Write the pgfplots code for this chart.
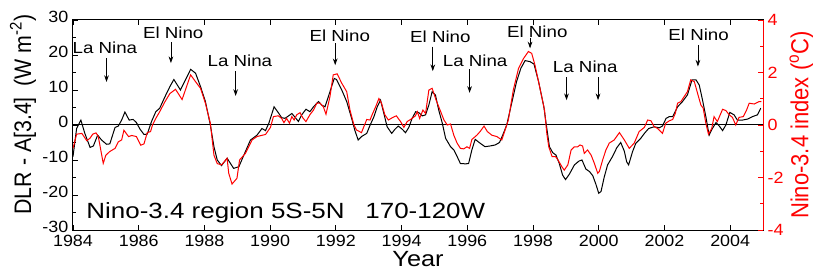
\documentclass[border=0pt]{standalone}
\usepackage{graphicx}
\usepackage{pgfplots}
\pgfplotsset{compat=1.18}
\usepackage{fontspec}
\setmainfont{Liberation Sans}
\usetikzlibrary{arrows.meta}
\newcommand{\annot}[1]{\scalebox{1.17}[1]{\fontsize{12}{14}\selectfont #1}}
\begin{document}
\begin{tikzpicture}
\begin{axis}[
  name=main, scale only axis, width=517.5pt, height=157.5pt,
  xmin=1984, xmax=2005, ymin=-30, ymax=30,
  xtick={1984,1986,...,2004}, minor x tick num=1,
  ytick={-30,-20,...,30}, minor y tick num=1,
  ytick pos=left, xtick pos=both,
  tick align=inside, major tick length=3.75pt, minor tick length=2.25pt,
  every tick/.style={black, line width=0.6pt},
  axis line style={line width=0.75pt},
  /pgf/number format/assume math mode=true,
  xticklabel={\scalebox{1.1}[1]{\pgfmathprintnumber[1000 sep={}]{\tick}}},
  yticklabel={\scalebox{1.1}[1]{\pgfmathprintnumber{\tick}}},
  tick label style={font=\fontsize{12.2}{14}\selectfont},
  x tick label style={inner ysep=0.5pt, yshift=-3.2pt},
  y tick label style={inner ysep=0.5pt, yshift=2.6pt},
  xlabel={\scalebox{1.15}[1]{Year}},
  xlabel style={font=\fontsize{16.5}{20}\selectfont, at={(axis description cs:0.5,-0.1)}, anchor=north, inner sep=0pt},
  ylabel={\scalebox{1}[1.12]{DLR - A[3.4]\hspace{0.5em}(W m\textsuperscript{-2})}},
  ylabel style={font=\fontsize{16}{19}\selectfont, at={(axis description cs:-0.0725,0.55)}, anchor=center},
  clip mode=individual,
]
\draw[black, line width=0.75pt] (axis cs:1984,0) -- (axis cs:2005,0);
\addplot[black, line width=0.75pt] coordinates {
(1984.00,-9.0)(1984.11,-1.0)(1984.24,1.4)(1984.36,-2.4)(1984.52,-6.4)(1984.62,-6.0)(1984.75,-2.9)(1984.87,-4.3)(1985.02,-5.5)(1985.12,-5.4)(1985.28,-0.7)(1985.38,-0.3)(1985.48,1.4)(1985.58,3.7)(1985.71,1.4)(1985.83,1.6)(1985.93,0.7)(1986.04,-1.2)(1986.16,-2.7)(1986.26,-2.6)(1986.39,1.0)(1986.52,3.8)(1986.64,4.8)(1986.80,8.1)(1986.95,11.0)(1987.07,13.0)(1987.27,10.0)(1987.58,15.9)(1987.73,14.8)(1987.88,11.0)(1988.03,6.7)(1988.18,0.0)(1988.29,-6.2)(1988.39,-10.0)(1988.52,-11.6)(1988.69,-9.5)(1988.89,-12.4)(1989.05,-11.9)(1989.20,-8.6)(1989.40,-4.3)(1989.60,-2.9)(1989.75,-1.0)(1989.86,-1.6)(1989.96,0.5)
(1990.12,5.2)(1990.25,3.5)(1990.35,2.1)(1990.45,1.9)(1990.56,2.6)(1990.66,3.3)(1990.76,2.2)(1990.86,1.0)(1990.96,2.9)(1991.09,4.5)(1991.21,3.8)(1991.32,5.2)(1991.47,6.7)(1991.57,5.7)(1991.67,5.2)(1991.82,9.5)(1991.95,13.3)(1992.02,13.0)(1992.18,10.0)(1992.33,6.7)(1992.48,1.9)(1992.58,-1.6)(1992.68,-4.3)(1992.78,-3.3)(1992.94,-2.4)
(1993.03,-0.3)(1993.16,2.4)(1993.26,5.2)(1993.36,7.1)(1993.46,3.3)(1993.56,-0.5)(1993.70,-2.4)(1993.80,-1.2)(1993.90,-0.3)(1994.02,-1.2)(1994.12,-2.2)(1994.22,-0.7)(1994.32,1.9)(1994.43,3.8)(1994.53,3.5)(1994.63,2.6)(1994.73,2.9)(1994.83,5.7)(1994.93,9.5)(1995.03,8.6)(1995.13,4.3)(1995.24,0.5)(1995.34,-3.8)(1995.49,-6.2)(1995.59,-7.1)(1995.69,-9.0)(1995.79,-11.0)(1995.95,-11.1)(1996.04,-11.0)(1996.14,-7.1)
(1996.24,-4.1)(1996.39,-5.2)(1996.54,-6.2)(1996.69,-6.0)(1996.85,-5.7)(1996.98,-5.0)(1997.10,-2.4)(1997.20,0.0)(1997.35,6.2)(1997.50,12.4)(1997.63,16.2)(1997.76,18.4)(1997.91,18.1)(1998.03,17.4)(1998.17,12.4)(1998.33,5.2)(1998.41,-0.3)(1998.50,-6.2)(1998.60,-7.9)(1998.70,-8.6)(1998.80,-11.0)(1998.90,-14.3)(1998.99,-15.6)(1999.11,-14.0)(1999.26,-11.4)(1999.40,-10.3)(1999.49,-10.0)(1999.61,-12.6)(1999.72,-13.3)(1999.82,-14.5)(1999.92,-17.1)(2000.00,-19.5)(2000.07,-19.0)(2000.17,-14.8)(2000.27,-11.4)(2000.42,-9.0)(2000.55,-6.5)(2000.67,-5.0)(2000.78,-7.5)(2000.85,-10.5)(2000.91,-11.4)(2001.03,-7.6)(2001.13,-5.2)(2001.28,-3.8)(2001.39,-2.4)(2001.52,-1.0)(2001.69,-0.5)(2001.84,-0.8)(2001.94,-0.3)
(2002.05,1.9)(2002.15,2.4)(2002.25,2.4)(2002.40,5.2)(2002.55,6.7)(2002.70,8.6)(2002.84,12.9)(2002.96,12.9)(2003.06,11.4)(2003.16,7.1)(2003.26,2.4)(2003.36,-2.9)(2003.46,-1.0)(2003.57,0.7)(2003.67,-0.3)(2003.77,-1.6)(2003.87,0.0)(2003.99,3.6)(2004.12,2.9)(2004.22,1.4)(2004.37,1.4)(2004.53,1.7)(2004.68,2.4)(2004.83,2.9)(2004.93,4.8)
};
% annotations
\node[anchor=base, inner sep=0pt] at (axis cs:1984.97,20.3) {\annot{La Nina}};
\draw[-{Stealth[length=5pt,width=3.5pt]}, line width=0.6pt] (axis cs:1985.02,19.1) -- (axis cs:1985.02,12.3);
\node[anchor=base, inner sep=0pt] at (axis cs:1987.05,24.6) {\annot{El Nino}};
\draw[-{Stealth[length=5pt,width=3.5pt]}, line width=0.6pt] (axis cs:1986.98,23.7) -- (axis cs:1986.98,17.7);
\node[anchor=base, inner sep=0pt] at (axis cs:1989.08,16.7) {\annot{La Nina}};
\draw[-{Stealth[length=5pt,width=3.5pt]}, line width=0.6pt] (axis cs:1988.95,15.3) -- (axis cs:1988.95,8.3);
\node[anchor=base, inner sep=0pt] at (axis cs:1992.12,23.8) {\annot{El Nino}};
\draw[-{Stealth[length=5pt,width=3.5pt]}, line width=0.6pt] (axis cs:1991.98,23.3) -- (axis cs:1991.98,17.1);
\node[anchor=base, inner sep=0pt] at (axis cs:1995.18,23.5) {\annot{El Nino}};
\draw[-{Stealth[length=5pt,width=3.5pt]}, line width=0.6pt] (axis cs:1994.95,22.4) -- (axis cs:1994.95,15.4);
\node[anchor=base, inner sep=0pt] at (axis cs:1996.24,16.7) {\annot{La Nina}};
\draw[-{Stealth[length=5pt,width=3.5pt]}, line width=0.6pt] (axis cs:1996.07,15.9) -- (axis cs:1996.07,9.2);
\node[anchor=base, inner sep=0pt] at (axis cs:1998.13,25.1) {\annot{El Nino}};
\draw[-{Stealth[length=5pt,width=3.5pt]}, line width=0.6pt] (axis cs:1997.91,24.9) -- (axis cs:1997.91,21.9);
\node[anchor=base, inner sep=0pt] at (axis cs:1999.59,14.9) {\annot{La Nina}};
\draw[-{Stealth[length=5pt,width=3.5pt]}, line width=0.6pt] (axis cs:1999.02,13.6) -- (axis cs:1999.02,7.1);
\draw[-{Stealth[length=5pt,width=3.5pt]}, line width=0.6pt] (axis cs:1999.98,13.6) -- (axis cs:1999.98,7.1);
\node[anchor=base, inner sep=0pt] at (axis cs:2003.04,24.1) {\annot{El Nino}};
\draw[-{Stealth[length=5pt,width=3.5pt]}, line width=0.6pt] (axis cs:2003.02,22.9) -- (axis cs:2003.02,16.7);
\node[anchor=base west, inner sep=0pt] at (axis cs:1984.40,-26.6) {\scalebox{1.18}[1]{\fontsize{16.5}{19}\selectfont Nino-3.4 region 5S-5N\hspace{0.8em}170-120W}};
\coordinate (ll) at (rel axis cs:0,0);
\coordinate (ur) at (rel axis cs:1,1);
\end{axis}
\begin{axis}[
  scale only axis, width=517.5pt, height=157.5pt,
  xmin=1984, xmax=2005, ymin=-4, ymax=4,
  axis x line=none, axis y line*=right,
  ytick={-4,-2,...,4}, minor y tick num=1,
  tick align=inside, major tick length=3.75pt, minor tick length=2.25pt,
  every tick/.style={red, line width=0.6pt},
  y axis line style={red, -, line width=0.75pt},
  /pgf/number format/assume math mode=true,
  yticklabel={\scalebox{1.1}[1]{\pgfmathprintnumber{\tick}}},
  yticklabel style={red, font=\fontsize{12.2}{14}\selectfont},
  ylabel={\scalebox{1}[1.12]{Nino-3.4 index (\textsuperscript{o}C)}},
  ylabel style={red, font=\fontsize{16.5}{19}\selectfont, at={(axis description cs:1.0558,0.5)}, anchor=center},
  clip mode=individual,
]
\addplot[red, line width=0.75pt] coordinates {
(1984.00,-0.89)(1984.11,-0.35)(1984.27,-0.32)(1984.42,-0.60)(1984.52,-0.50)(1984.60,-0.35)(1984.70,-0.30)(1984.77,-0.44)(1984.92,-1.46)(1985.00,-1.15)(1985.12,-1.01)(1985.28,-0.89)(1985.38,-0.64)(1985.48,-0.57)(1985.55,-0.20)(1985.69,-0.44)(1985.79,-0.40)(1985.93,-0.44)(1986.06,-0.77)(1986.16,-0.72)(1986.26,-0.29)(1986.36,-0.25)(1986.42,0.00)(1986.52,0.25)(1986.64,0.51)(1986.80,0.89)(1986.95,1.20)
(1987.12,1.36)(1987.32,0.97)(1987.58,1.91)(1987.73,1.65)(1987.88,1.40)(1988.03,0.83)(1988.18,0.07)(1988.29,-1.15)(1988.39,-1.47)(1988.52,-1.52)(1988.69,-1.27)(1988.74,-1.84)(1988.84,-2.25)(1988.99,-2.03)(1989.07,-1.33)(1989.25,-1.08)(1989.45,-0.57)(1989.60,-0.44)(1989.86,-0.36)(1990.01,-0.09)
(1990.10,0.32)(1990.25,0.35)(1990.35,0.25)(1990.42,0.09)(1990.50,0.25)(1990.59,0.07)(1990.66,0.32)(1990.73,0.19)(1990.81,0.39)(1990.91,0.47)(1990.99,0.28)(1991.09,0.13)(1991.21,0.39)(1991.32,0.57)(1991.42,0.83)(1991.52,0.83)(1991.62,0.69)(1991.70,0.41)(1991.82,1.08)(1991.92,1.91)(1992.04,1.95)(1992.18,1.59)(1992.33,1.27)(1992.43,0.57)(1992.55,0.00)(1992.63,-0.19)(1992.78,-0.29)(1992.94,0.21)
(1993.04,0.19)(1993.11,0.41)(1993.21,0.69)(1993.31,1.01)(1993.39,0.83)(1993.49,0.39)(1993.60,0.19)(1993.72,0.28)(1993.84,0.35)(1993.97,0.13)(1994.07,-0.09)(1994.17,0.13)(1994.32,0.25)(1994.42,0.35)(1994.48,0.51)(1994.55,0.25)(1994.65,0.57)(1994.73,0.44)(1994.83,1.33)(1994.93,1.40)(1995.05,0.95)(1995.19,0.51)(1995.29,0.19)(1995.39,0.00)(1995.49,0.04)(1995.59,-0.39)(1995.69,-0.69)(1995.79,-0.89)(1995.89,-0.91)(1995.99,-0.83)(1996.07,-0.89)
(1996.14,-0.55)(1996.29,-0.39)(1996.39,-0.25)(1996.51,-0.04)(1996.61,-0.25)(1996.75,-0.39)(1996.90,-0.44)(1997.05,-0.57)(1997.15,-0.19)(1997.25,0.19)(1997.40,1.33)(1997.56,2.16)(1997.71,2.53)(1997.86,2.80)(1997.96,2.73)(1998.06,2.28)(1998.20,1.47)(1998.35,0.57)(1998.42,-0.32)(1998.48,-0.83)(1998.58,-1.20)(1998.68,-1.20)(1998.75,-1.31)(1998.88,-1.59)(1998.95,-1.72)(1999.06,-1.52)(1999.16,-0.95)(1999.26,-0.83)(1999.36,-0.83)(1999.43,-0.76)(1999.51,-0.80)(1999.56,-1.08)(1999.66,-0.95)(1999.77,-1.15)(1999.87,-1.47)(1999.97,-1.84)(2000.02,-1.77)(2000.12,-1.33)(2000.22,-0.95)(2000.32,-0.69)(2000.47,-0.57)(2000.63,-0.29)(2000.78,-0.57)(2000.93,-0.89)(2001.08,-0.69)(2001.23,-0.25)(2001.39,-0.09)(2001.49,0.19)(2001.59,0.16)(2001.69,-0.07)(2001.79,-0.13)(2001.94,-0.32)
(2002.04,0.07)(2002.15,0.16)(2002.25,0.21)(2002.33,0.44)(2002.40,0.83)(2002.50,0.89)(2002.60,1.08)(2002.70,1.27)(2002.80,1.72)(2002.91,1.65)(2003.01,1.20)(2003.11,0.76)(2003.18,0.64)(2003.26,0.07)(2003.34,-0.35)(2003.44,-0.13)(2003.51,0.32)(2003.61,0.13)(2003.77,0.60)(2003.87,0.55)(2003.97,0.39)(2004.07,0.29)(2004.17,0.00)(2004.27,0.29)(2004.40,0.32)(2004.50,0.57)(2004.58,0.83)(2004.73,0.80)(2004.88,0.89)(2004.95,0.89)
};
\end{axis}
\path (ll) ++(-54.75pt,-30.75pt) coordinate (bbA);
\path (ur) ++(37.5pt,15pt) coordinate (bbB);
\pgfresetboundingbox
\path[use as bounding box] (bbA) rectangle (bbB);
\end{tikzpicture}
\end{document}
